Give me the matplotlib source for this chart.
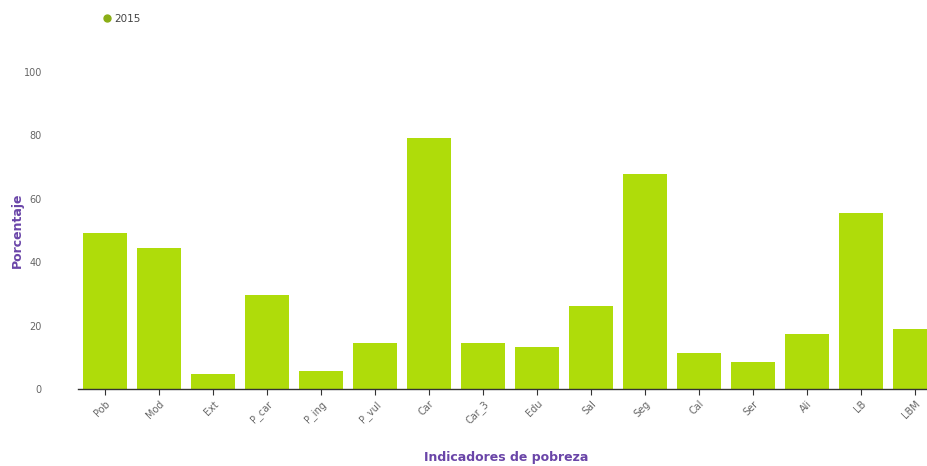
import matplotlib
matplotlib.use("Agg")
import matplotlib.pyplot as plt
from matplotlib.lines import Line2D

categories = ["Pob", "Mod", "Ext", "P_car", "P_ing", "P_vul", "Car", "Car_3",
              "Edu", "Sal", "Seg", "Cal", "Ser", "Ali", "LB", "LBM"]
values_2015 = [49.2, 44.5, 4.7, 29.7, 5.7, 14.5, 79.2, 14.5,
               13.2, 26.2, 67.8, 11.4, 8.5, 17.4, 55.5, 18.9]
series_name = "2015"
yticks = [0, 20, 40, 60, 80, 100]

bar_color = "#afdc0a"
purple = "#6a45a8"
gray = "#666666"

fig = plt.figure(figsize=(9.27, 4.66), dpi=100)
ax = fig.add_axes([78/927, 77/466, 1 - 78/927, 317/466])

x = list(range(len(categories)))
ax.bar(x, values_2015, width=0.8, color=bar_color, zorder=2)
ax.set_xlim(-0.5, 15 + (927 - 915) / 54)
ax.set_ylim(0, 100)

for s in ["top", "right", "left"]:
    ax.spines[s].set_visible(False)
ax.spines["bottom"].set_color("#333333")
ax.spines["bottom"].set_linewidth(1.0)

ax.set_yticks(yticks)
ax.set_yticklabels([str(v) for v in yticks], fontsize=7, color=gray)
ax.tick_params(axis="y", length=0, pad=26)

ax.set_xticks(x)
ax.set_xticklabels(categories, rotation=45, ha="right", rotation_mode="anchor",
                   fontsize=7, color=gray)
ax.tick_params(axis="x", length=4, color="#333333", pad=3)

ax.set_ylabel("Porcentaje", color=purple, fontsize=9, fontweight="bold")
ax.yaxis.set_label_coords(-54/849, 0.5)
fig.text(506/927, 1 - 457/466, "Indicadores de pobreza", color=purple, fontsize=9,
         fontweight="bold", ha="center", va="center")

handle = Line2D([0], [0], marker="o", color="none", markerfacecolor="#8aae16",
                markeredgecolor="#8aae16", markersize=5)
fig.legend([handle], [series_name], loc="center left", bbox_to_anchor=(102/927, 1 - 19/466),
           frameon=False, fontsize=7.5, handletextpad=0.2, handlelength=1.0,
           borderaxespad=0, borderpad=0, labelcolor="#444444")

fig.savefig("out.png", dpi=100, facecolor="white")
